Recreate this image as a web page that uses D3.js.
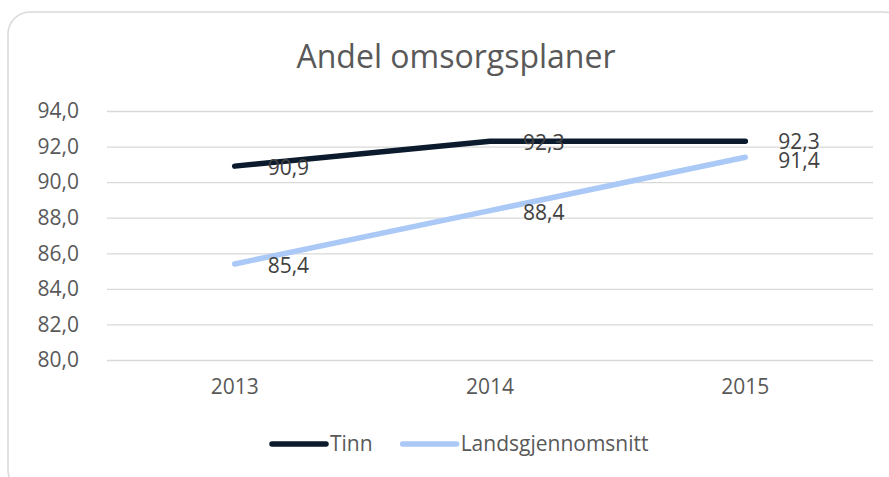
<!DOCTYPE html>
<html>
<head>
<meta charset="utf-8">
<script src="https://cdn.jsdelivr.net/npm/d3@7"></script>
<style>
  body { margin: 0; background: #fff; }
  svg { display: block; font-family: "Open Sans", sans-serif; }
</style>
</head>
<body>
<svg id="chart" width="889" height="477"></svg>
<script>
var years = ["2013", "2014", "2015"];
var tinn = [90.9, 92.3, 92.3];
var landet = [85.4, 88.4, 91.4];
var yTicks = [80, 82, 84, 86, 88, 90, 92, 94];
var seriesNames = ["Tinn", "Landsgjennomsnitt"];
var seriesColors = ["#0b1a2d", "#abc9f6"];

var svg = d3.select("#chart");
var textColor = "#595959";
var fontSize = 21;

// chart frame, runs off the right and bottom edge
svg.append("rect")
    .attr("x", 8).attr("y", 12)
    .attr("width", 898).attr("height", 480)
    .attr("rx", 22).attr("ry", 22)
    .attr("fill", "#fff")
    .attr("stroke", "#d9d9d9")
    .attr("stroke-width", 1.5);

svg.append("text")
    .text("Andel omsorgsplaner")
    .attr("x", 456).attr("y", 68)
    .attr("text-anchor", "middle")
    .attr("font-size", 32)
    .attr("fill", textColor);

var x = d3.scaleBand().domain(years).range([107, 873]);
var y = d3.scaleLinear().domain([80, 94]).range([360, 111]);
var cx = function(d){ return x(d) + x.bandwidth()/2; };
var fmt = function(d){ return d3.format(".1f")(d).replace(".", ","); };

//gridlines + y labels
var yAxis = svg.append("g")
    .attr("transform", "translate(107,0)")
    .call(d3.axisLeft(y).tickValues(yTicks).tickSize(-766).tickPadding(28).tickFormat(fmt));
yAxis.select(".domain").remove();
yAxis.selectAll(".tick line").attr("stroke", "#d9d9d9").attr("stroke-width", 1.3);
yAxis.selectAll(".tick text")
    .attr("font-size", fontSize)
    .attr("fill", textColor)
    .attr("font-family", "Open Sans");

var xAxis = svg.append("g")
    .attr("transform", "translate(0,360)")
    .call(d3.axisBottom(x).tickSize(0).tickPadding(19));
xAxis.select(".domain").remove();
xAxis.selectAll(".tick text")
    .attr("font-size", fontSize)
    .attr("fill", textColor)
    .attr("font-family", "Open Sans");

var series = [tinn, landet];
var line = d3.line()
    .x(function(d, i){ return cx(years[i]); })
    .y(function(d){ return y(d); });

// draw landet first so Tinn sits on top
for(var s = series.length - 1; s >= 0; s--){
    svg.append("path")
        .datum(series[s])
        .attr("d", line)
        .attr("fill", "none")
        .attr("stroke", seriesColors[s])
        .attr("stroke-width", 5.5)
        .attr("stroke-linecap", "round")
        .attr("stroke-linejoin", "round");
}

//label y positions, pushed apart a bit when two labels sit too close
var minGap = 19;
var labelY = series.map(function(arr){ return arr.map(function(d){ return y(d); }); });
for(var i = 0; i < years.length; i++){
    var a = labelY[0][i], b = labelY[1][i];
    var gap = Math.abs(a - b);
    if(gap < minGap){
        var push = (minGap - gap)/2;
        if(a < b){ labelY[0][i] -= push; labelY[1][i] += push; }
        else { labelY[0][i] += push; labelY[1][i] -= push; }
    }
}

for(var s = 0; s < series.length; s++){
    svg.selectAll(".lbl" + s)
        .data(series[s])
        .enter().append("text")
        .attr("class", "lbl" + s)
        .text(fmt)
        .attr("x", function(d, i){ return cx(years[i]) + 33; })
        .attr("y", (function(s){ return function(d, i){ return labelY[s][i] + 9; }; })(s))
        .attr("font-size", fontSize)
        .attr("fill", "#404040");
}

//legend
var lx = 272;
for(var s = 0; s < seriesNames.length; s++){
    svg.append("line")
        .attr("x1", lx).attr("x2", lx + 54)
        .attr("y1", 444).attr("y2", 444)
        .attr("stroke", seriesColors[s])
        .attr("stroke-width", 5.5)
        .attr("stroke-linecap", "round");
    var t = svg.append("text")
        .text(seriesNames[s])
        .attr("x", lx + 58).attr("y", 451)
        .attr("font-size", fontSize)
        .attr("fill", textColor);
    lx = lx + 58 + t.node().getComputedTextLength() + 30;
}
</script>
</body>
</html>
